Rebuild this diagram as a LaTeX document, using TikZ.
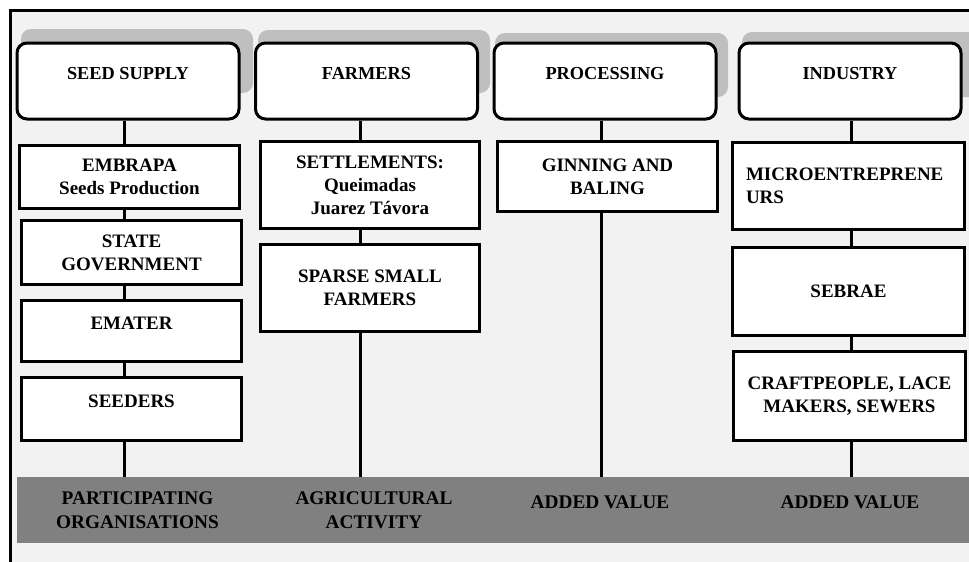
\documentclass[tikz,border=0pt]{standalone}
\usepackage{fontspec}
\setmainfont{Liberation Serif}
\usepackage{xcolor}
\usepackage{tikz}
\definecolor{fond}{HTML}{F2F2F2}
\definecolor{ombre}{HTML}{BFBFBF}
\definecolor{gris}{HTML}{808080}

\begin{document}
\begin{tikzpicture}[x=1pt,y=-1pt]
% Styles
\tikzstyle{texte}=[font=\bfseries\fontsize{19}{23}\selectfont,align=center,inner sep=2pt]
\tikzstyle{entete}=[texte,font=\bfseries\fontsize{18.3}{23}\selectfont,draw,line width=3pt,rounded corners=10pt,fill=white,minimum width=222pt,minimum height=76pt]
\tikzstyle{boite}=[texte,draw,line width=3pt,fill=white]
\tikzstyle{bande}=[texte,font=\bfseries\fontsize{19.3}{24}\selectfont,fill=gris,minimum height=66pt]
\tikzstyle{haut}=[text height=12.5pt,text depth=16pt]
\tikzstyle{ombrage}=[fill=ombre,rounded corners=10pt]
\tikzstyle{lien}=[line width=3pt]
% Cadre
\useasboundingbox (0,0) rectangle (969,562);
\fill[fond] (12,11) rectangle (990,580);
\draw[line width=3pt] (10.5,580) -- (10.5,10.5) -- (990,10.5);
% Ombres
\fill[ombrage] (21,29) rectangle (253,93);
\fill[ombrage] (258,30) rectangle (490,93);
\fill[ombrage] (495,33) rectangle (728,97);
\fill[ombrage] (742,32) rectangle (990,97);
% Colonnes
\coordinate (c1) at (124,0);
\coordinate (c2) at (360,0);
\coordinate (c3) at (601,0);
\coordinate (c4) at (851,0);
% Noeuds
\node[entete,haut] (ent1) at (128,81) {SEED SUPPLY};
\node[entete,haut] (ent2) at (366.5,81) {FARMERS};
\node[entete,haut] (ent3) at (605,81) {PROCESSING};
\node[entete,haut] (ent4) at (850,81) {INDUSTRY};
\node[boite,minimum width=220pt,minimum height=63pt] (embrapa) at (129.5,177) {EMBRAPA\\Seeds Production};
\node[boite,minimum width=220pt,minimum height=64pt] (etat) at (131.5,252.5) {STATE\\GOVERNMENT};
\node[boite,haut,minimum width=220pt,minimum height=61pt] (emater) at (131.5,331) {EMATER};
\node[boite,haut,minimum width=220pt,minimum height=63pt] (semeurs) at (131.5,409) {SEEDERS};
\node[boite,minimum width=219pt,minimum height=87pt] (assent) at (370,185) {SETTLEMENTS:\\Queimadas\\Juarez Távora};
\node[boite,minimum width=219pt,minimum height=87pt] (petits) at (370,288) {SPARSE SMALL\\FARMERS};
\node[boite,minimum width=220pt,minimum height=70pt] (egren) at (607.5,176.5) {GINNING AND\\BALING};
\node[boite,minimum width=232pt,minimum height=87pt,text width=205pt,align=left] (micro) at (848.5,186) {MICROENTREPRENE\\URS};
\node[boite,minimum width=232pt,minimum height=88pt] (sebrae) at (848.5,291.5) {SEBRAE};
\node[boite,minimum width=232pt,minimum height=89pt] (artisans) at (849.5,396) {CRAFTPEOPLE, LACE\\MAKERS, SEWERS};
\node[bande,minimum width=241pt] (bande1) at (137.5,510) {PARTICIPATING\\ORGANISATIONS};
\node[bande,minimum width=232pt] (bande2) at (374,510) {AGRICULTURAL\\ACTIVITY};
\node[bande,haut,minimum width=220pt] (bande3) at (600,510) {ADDED VALUE};
\node[bande,haut,minimum width=280pt] (bande4) at (850,510) {ADDED VALUE};
% Liens
\draw[lien] (ent1.south -| c1) -- (embrapa.north -| c1);
\draw[lien] (embrapa.south -| c1) -- (etat.north -| c1);
\draw[lien] (etat.south -| c1) -- (emater.north -| c1);
\draw[lien] (emater.south -| c1) -- (semeurs.north -| c1);
\draw[lien] (semeurs.south -| c1) -- (bande1.north -| c1);
\draw[lien] (ent2.south -| c2) -- (assent.north -| c2);
\draw[lien] (assent.south -| c2) -- (petits.north -| c2);
\draw[lien] (petits.south -| c2) -- (bande2.north -| c2);
\draw[lien] (ent3.south -| c3) -- (egren.north -| c3);
\draw[lien] (egren.south -| c3) -- (bande3.north -| c3);
\draw[lien] (ent4.south -| c4) -- (micro.north -| c4);
\draw[lien] (micro.south -| c4) -- (sebrae.north -| c4);
\draw[lien] (sebrae.south -| c4) -- (artisans.north -| c4);
\draw[lien] (artisans.south -| c4) -- (bande4.north -| c4);
\end{tikzpicture}
\end{document}
